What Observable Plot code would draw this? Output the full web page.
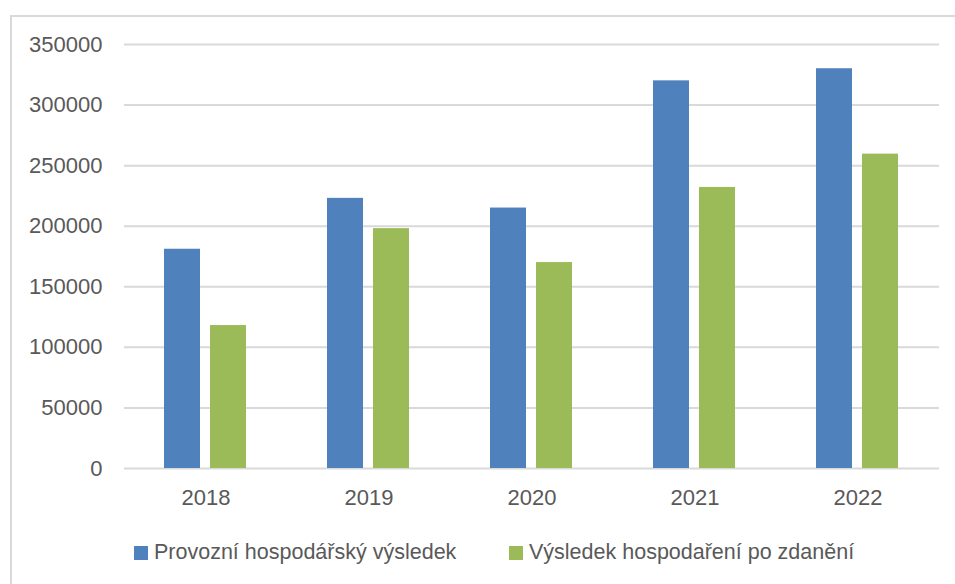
<!DOCTYPE html>
<html>
<head>
<meta charset="utf-8">
<script src="https://cdn.jsdelivr.net/npm/d3@7"></script>
<script src="https://cdn.jsdelivr.net/npm/@observablehq/plot@0.6"></script>
<style>
  html, body { margin: 0; padding: 0; background: #fff; }
  body { width: 955px; height: 584px; overflow: hidden; position: relative; font-family: "Liberation Sans", Arial, sans-serif; }
  #frame { position: absolute; left: 10px; top: 15px; width: 960px; height: 600px; border-left: 2px solid #d9d9d9; border-top: 2px solid #d9d9d9; box-sizing: border-box; }
  #chart { position: absolute; left: 0; top: 0; }
  .legend-item { position: absolute; top: 540px; display: flex; align-items: center; font-size: 21.5px; color: #595959; white-space: nowrap; }
  .legend-item .sw { width: 14px; height: 14px; margin-right: 6px; }
</style>
</head>
<body>
<div id="frame"></div>
<div id="chart"></div>
<div id="legend"></div>
<script>
const years = ["2018", "2019", "2020", "2021", "2022"];
const seriesNames = ["Provozní hospodářský výsledek", "Výsledek hospodaření po zdanění"];
const provozni = [181000, 223000, 215000, 320000, 330000];
const poZdaneni = [118000, 198000, 170000, 232000, 259500];
const yTicks = [0, 50000, 100000, 150000, 200000, 250000, 300000, 350000];
const colors = ["#4F81BD", "#9BBB59"];

const data = [];
years.forEach((yr, i) => {
  data.push({year: yr, series: seriesNames[0], value: provozni[i]});
  data.push({year: yr, series: seriesNames[1], value: poZdaneni[i]});
});

const chart = Plot.plot({
  width: 955,
  height: 520,
  marginLeft: 122,
  marginRight: 14,
  marginTop: 44,
  marginBottom: 52,
  style: {fontFamily: "'Liberation Sans', Arial, sans-serif", fontSize: "22px", color: "#595959", background: "transparent"},
  fx: {domain: years, padding: 0, label: null, tickSize: 0, tickPadding: 21},
  x: {domain: seriesNames, axis: null, paddingInner: 0.215, paddingOuter: 0.875},
  y: {domain: [0, 350000], ticks: yTicks, tickSize: 0, tickPadding: 22, label: null, tickFormat: d => String(d)},
  color: {domain: seriesNames, range: colors},
  marks: [
    Plot.gridY(yTicks, {stroke: "#d9d9d9", strokeOpacity: 1, strokeWidth: 2}),
    Plot.barY(data, {fx: "year", x: "series", y: "value", fill: "series"})
  ]
});
document.getElementById("chart").appendChild(chart);

const legend = document.getElementById("legend");
const legendLefts = [134, 509];
seriesNames.forEach((name, i) => {
  const item = document.createElement("div");
  item.className = "legend-item";
  item.style.left = legendLefts[i] + "px";
  const sw = document.createElement("span");
  sw.className = "sw";
  sw.style.background = colors[i];
  const t = document.createElement("span");
  t.textContent = name;
  item.appendChild(sw);
  item.appendChild(t);
  legend.appendChild(item);
});
</script>
</body>
</html>
